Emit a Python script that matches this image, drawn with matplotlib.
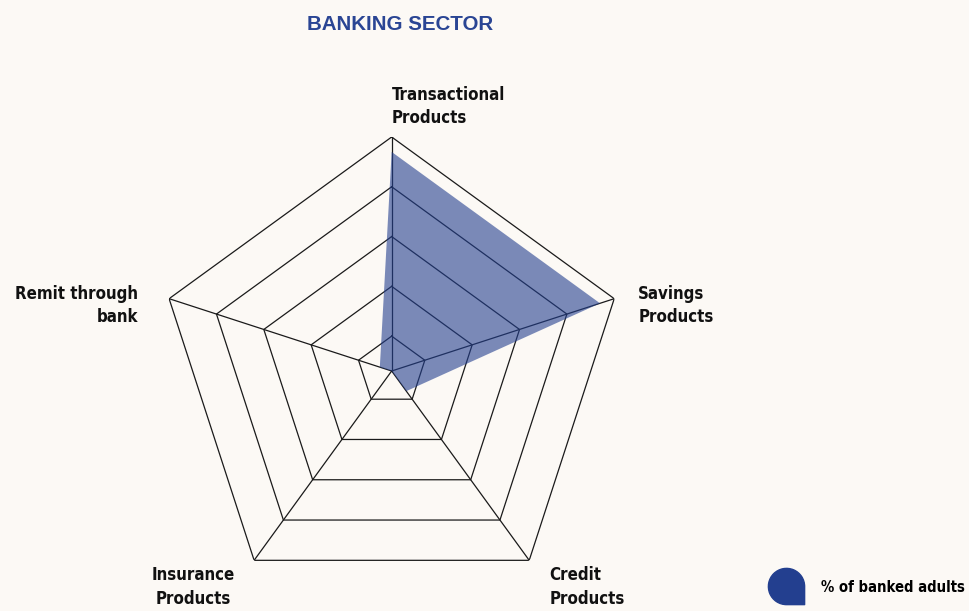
import numpy as np
import matplotlib
matplotlib.use("Agg")
import matplotlib.pyplot as plt
from matplotlib.lines import Line2D
from matplotlib.path import Path
from matplotlib import font_manager

# radar data (% of banked adults)
categories = ["Transactional\nProducts", "Savings\nProducts", "Credit\nProducts",
              "Insurance\nProducts", "Remit through\nbank"]
values = [94, 94, 16, 6, 11]
ring_levels = [20, 40, 60, 80, 100]
r_min = 6

bg = "#fcf9f5"
navy = "#233f8f"


def is_bold(f):
    w = f.weight
    if isinstance(w, str):
        return "bold" in w.lower() or w.lower() in ("heavy", "black")
    return w >= 600


# look for a condensed bold face, otherwise use Roboto (narrower than DejaVu)
condensed = [f for f in font_manager.fontManager.ttflist
             if is_bold(f) and (("condensed" in str(f.stretch)) or "Narrow" in f.name
                                or "Condensed" in f.name)]
if condensed:
    label_fp = font_manager.FontProperties(fname=condensed[0].fname, size=10)
else:
    label_fp = font_manager.FontProperties(family="Roboto", weight="bold", size=10)

fig = plt.figure(figsize=(9.69, 6.11), dpi=100, facecolor=bg)
renderer = fig.canvas.get_renderer()


def text_width(s, fp):
    t = fig.text(0, 0, s, fontproperties=fp)
    w = t.get_window_extent(renderer).width
    h = t.get_window_extent(renderer).height
    t.remove()
    return w, h


# size the label face so its widths match the reference
w10, _ = text_width("Transactional", label_fp)
label_size = 10 * 113 / w10
label_fp = label_fp.copy()
label_fp.set_size(label_size)
_, lp_h = text_width("lp", label_fp)
line_sp = 25 / lp_h

legend_fp = label_fp.copy()
wl, _ = text_width("% of banked adults", legend_fp)
legend_fp.set_size(label_size * 143 / wl)
leg_fs = legend_fp.get_size_in_points()

ax = fig.add_axes([0.1627, 0.0098, 0.483, 0.766], projection="polar")
ax.set_theta_zero_location("N")
ax.set_theta_direction(-1)
ax.patch.set_alpha(0)
ax.spines["polar"].set_visible(False)
ax.grid(False)
ax.set_xticks([])
ax.set_yticks([])
ax.set_ylim(r_min, 100)

n = len(categories)
angles = np.linspace(0, 2 * np.pi, n, endpoint=False)
closed = np.append(angles, angles[0])

# pentagon grid
for lv in ring_levels:
    ax.plot(closed, [lv] * (n + 1), color="#1a1a1a", lw=0.9, zorder=1)
for a in angles:
    ax.plot([a, a], [r_min, 100], color="#1a1a1a", lw=0.9, zorder=1)

# data polygon
ax.fill(closed, values + values[:1], color=navy, alpha=0.6, lw=0, zorder=2)

# axis labels
px = 0.72  # points per pixel
label_fmt = [
    dict(ha="left", va="bottom", ma="left", off=(0, 10)),
    dict(ha="left", va="center", ma="left", off=(24, -7)),
    dict(ha="left", va="top", ma="left", off=(20, -6)),
    dict(ha="right", va="top", ma="center", off=(-19, -6)),
    dict(ha="right", va="center", ma="right", off=(-31, -7)),
]
for a, lab, f in zip(angles, categories, label_fmt):
    ax.annotate(lab, xy=(a, 100), xytext=(f["off"][0] * px, f["off"][1] * px),
                textcoords="offset points", ha=f["ha"], va=f["va"], ma=f["ma"],
                color="#111111", linespacing=line_sp, annotation_clip=False,
                fontproperties=label_fp)

fig.text(0.4133, 0.96, "BANKING SECTOR", ha="center", va="center",
         fontsize=14.8, fontweight="bold", color="#2a4594", family="Liberation Sans")

# legend with drop-shaped marker
arc = Path.arc(0, 270)
verts = np.vstack([arc.vertices, [[1, -1], [1, 0]]])
codes = list(arc.codes) + [Path.LINETO, Path.CLOSEPOLY]
drop = Path(verts, codes)
handle = Line2D([], [], marker=drop, markersize=26.6, color=navy, ls="none")
fig.legend(handles=[handle], labels=["% of banked adults"], loc="center left",
           bbox_to_anchor=(766 / 969, 1 - 587 / 611), frameon=False,
           handlelength=40 * px / leg_fs, handletextpad=15 * px / leg_fs,
           borderpad=0, borderaxespad=0, prop=legend_fp)

fig.savefig("out.png", dpi=100, facecolor=bg)
